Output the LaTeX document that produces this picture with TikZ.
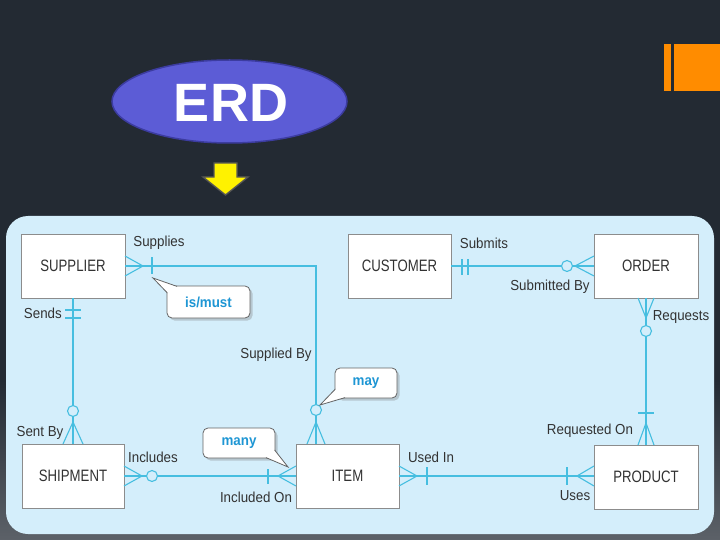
\documentclass[tikz,border=0pt]{standalone}
\usepackage{fontspec}
\setmainfont{Liberation Sans}
\newfontfamily\entfont[FakeStretch=0.8]{Liberation Sans}
\newfontfamily\lblfont[FakeStretch=0.92]{Liberation Sans}
\usetikzlibrary{shadows,calc}
\definecolor{bgc}{RGB}{35,42,51}
\definecolor{shadc}{RGB}{92,97,104}
\definecolor{panelc}{RGB}{212,238,251}
\definecolor{relc}{RGB}{70,190,224}
\definecolor{boxc}{RGB}{140,140,140}
\definecolor{txtc}{RGB}{50,50,50}
\definecolor{calt}{RGB}{30,150,212}
\definecolor{calb}{RGB}{100,100,100}
\definecolor{ellf}{RGB}{92,92,214}
\definecolor{elld}{RGB}{60,60,160}
\definecolor{orc}{RGB}{255,140,0}
\tikzset{
  entity/.style={draw=boxc, fill=white, line width=0.9pt, inner sep=0pt,
    minimum width=104pt, minimum height=64pt, text=txtc,
    font=\entfont\fontsize{16.5}{18}\selectfont},
  lbl/.style={inner sep=0pt, text=txtc, font=\lblfont\fontsize{14.5}{16}\selectfont},
  rel/.style={draw=relc, line width=1.1pt},
  ring/.style={draw=relc, line width=1.1pt, fill=panelc},
  cbox/.style={draw=calb, fill=white, line width=0.8pt, rounded corners=5pt,
    inner sep=0pt, text=calt, font=\lblfont\bfseries\fontsize{14.5}{16}\selectfont,
    drop shadow={shadow xshift=2.5pt, shadow yshift=-2.5pt, opacity=0.35}},
}
\begin{document}
\begin{tikzpicture}[x=1pt,y=-1pt]
\useasboundingbox (0,0) rectangle (720,540);
\fill[bgc] (0,0) rectangle (720,540);
\shade[top color=bgc, bottom color=shadc] (0,380) rectangle (720,540);
% panel
\fill[panelc, rounded corners=22pt] (6,216) rectangle (714,534);
% orange bars
\fill[orc] (664,44) rectangle (671,91);
\fill[orc] (674,44) rectangle (720,91);
% ERD ellipse
\coordinate (erd) at (229.5,101.5);
\path[fill=ellf, draw=elld, line width=1.5pt] (erd) ellipse [x radius=117.5pt, y radius=41.5pt];
\node[text=white, font=\bfseries\fontsize{54}{56}\selectfont, inner sep=0pt] (erdt) at (231,102.5) {ERD};
% yellow arrow
\draw[fill=yellow, draw={rgb,255:red,85;green,85;blue,85}, line width=1.4pt, line join=miter]
  (214,163) -- (237,163) -- (237,177) -- (248,177) -- (225.5,195) -- (203,177) -- (214,177) -- cycle;
% entities
\node[entity] (sup) at (73,266) {SUPPLIER};
\node[entity, minimum width=103pt] (cus) at (399.5,266) {CUSTOMER};
\node[entity] (ord) at (646,266) {ORDER};
\node[entity, minimum width=102pt] (shp) at (73,476) {SHIPMENT};
\node[entity, minimum width=103pt] (itm) at (347.5,476) {ITEM};
\node[entity] (prd) at (646,477) {PRODUCT};
% connectors
\draw[rel] (sup.east) -| ($(itm.north)+(-31.5,0)$);
\draw[rel] (sup.south) -- (shp.north);
\draw[rel] (shp.east) -- (itm.west);
\draw[rel] (itm.east) -- (itm.east -| prd.west);
\draw[rel] (ord.south) -- (prd.north);
\draw[rel] (cus.east) -- (ord.west);
% supplier - item marks
\draw[rel] (125,256) -- (143,266) -- (125,276);
\draw[rel] (152,257) -- (152,274);
\draw[rel] (307,444) -- (316,422) -- (325,444);
\draw[ring] (316,410) circle (5.5pt);
% supplier - shipment marks
\draw[rel] (65,310) -- (81,310) (65,318) -- (81,318);
\draw[rel] (63,444) -- (73,422) -- (83,444);
\draw[ring] (73,411) circle (5.5pt);
% shipment - item
\draw[rel] (124,466) -- (142,476) -- (124,486);
\draw[ring] (152,476) circle (5.5pt);
\draw[rel] (268,469) -- (268,484);
\draw[rel] (296,466) -- (278,476) -- (296,486);
% item - product
\draw[rel] (399,466) -- (417,476) -- (399,486);
\draw[rel] (427,467) -- (427,485);
\draw[rel] (567,467) -- (567,485);
\draw[rel] (594,466) -- (577,476) -- (594,486);
% order - product
\draw[rel] (638,298) -- (646,318) -- (654,298);
\draw[ring] (646,331) circle (5.5pt);
\draw[rel] (638,413) -- (654,413);
\draw[rel] (638,445) -- (646,423) -- (654,445);
% customer - order
\draw[rel] (462,259) -- (462,275) (468,259) -- (468,275);
\draw[ring] (567,266) circle (5.5pt);
\draw[rel] (594,256) -- (575,266) -- (594,276);
% labels
\node[lbl] (l1) at (159,243) {Supplies};
\node[lbl, anchor=east] (l2) at (62,313) {Sends};
\node[lbl] (l3) at (276,355) {Supplied By};
\node[lbl] (l4) at (40,433) {Sent By};
\node[lbl] (l5) at (153,457) {Includes};
\node[lbl] (l6) at (256,497) {Included On};
\node[lbl] (l7) at (431,457) {Used In};
\node[lbl] (l8) at (575,496) {Uses};
\node[lbl] (l9) at (590,431) {Requested On};
\node[lbl] (l10) at (681,317) {Requests};
\node[lbl] (l11) at (484,243) {Submits};
\node[lbl] (l12) at (550,287) {Submitted By};
% callouts
\node[cbox, minimum width=83pt, minimum height=32pt] (c1) at (208.5,302) {is/must};
\coordinate (t1) at (153,278);
\fill[white] (167.6,293) -- (t1) -- (177,286.6) -- (173,292) -- cycle;
\draw[draw=calb, line width=0.8pt] (167.4,293) -- (t1) -- (177,286.4);
\node[cbox, minimum width=62pt, minimum height=30pt] (c2) at (366,383) {may};
\coordinate (t2) at (320,405);
\fill[white] (335.6,389) -- (t2) -- (345,397.4) -- (340,393) -- cycle;
\draw[draw=calb, line width=0.8pt] (335.4,389) -- (t2) -- (345,397.6);
\node[cbox, minimum width=72pt, minimum height=30pt] (c3) at (239,443) {many};
\coordinate (t3) at (288,467);
\fill[white] (266,457.4) -- (t3) -- (274.4,450) -- (270,454) -- cycle;
\draw[draw=calb, line width=0.8pt] (266,457.6) -- (t3) -- (274.6,450);
\end{tikzpicture}
\end{document}
